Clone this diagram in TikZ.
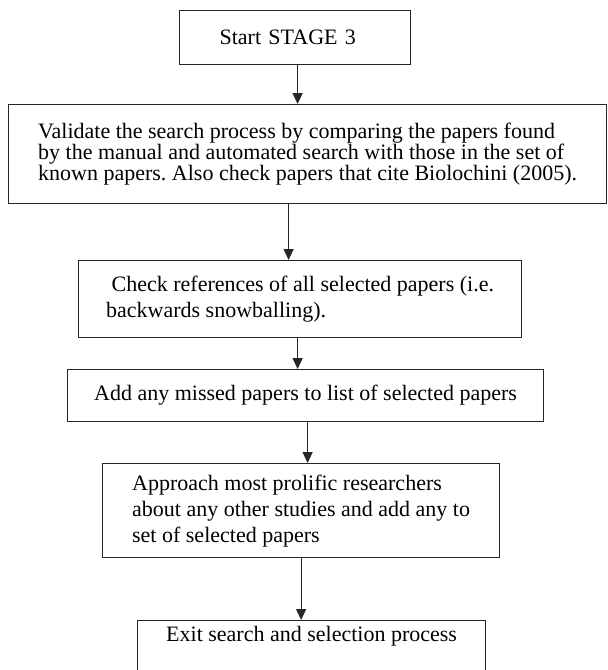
\documentclass[tikz,border=0pt]{standalone}
\usepackage{fontspec}
\setmainfont{Liberation Serif}
\usetikzlibrary{arrows.meta}
\frenchspacing

\begin{document}
\begin{tikzpicture}[
    x=1pt, y=1pt,
    box/.style={rectangle,draw=black!85,line width=0.6pt,align=left,
                inner xsep=4pt,anchor=north west},
    loose/.style={font=\fontsize{11}{13}\selectfont},
    flow/.style={-{Triangle[length=5.5pt,width=5pt]},draw=black!85,
                 line width=0.6pt}
]

    \tikzstyle{every node}=[font=\fontsize{11}{10.7}\selectfont];

    \clip (0,0) rectangle (304,-335);

    % stage 3 boxes
    \node[box, inner xsep=20pt, text width=75.5pt, minimum height=27pt]
        (start) at (89.5,-5) {Start STAGE 3};

    \node[box, minimum width=299pt, minimum height=49.5pt] (validate) at (4,-52)
        {Validate the search process by comparing the papers found\\
         by the manual and automated search with those in the set of\\
         known papers. Also check papers that cite Biolochini (2005).};

    \node[box, loose, minimum width=221.5pt, minimum height=38.5pt] (refs) at (39,-130)
        {\ Check references of all selected papers (i.e.\\
         backwards snowballing).};

    \node[box, minimum width=238pt, minimum height=26pt] (missed) at (33.5,-184.5)
        {Add any missed papers to list of selected papers};

    \node[box, loose, minimum width=198.5pt, minimum height=47pt] (approach) at (51,-231.5)
        {Approach most prolific researchers\\
         about any other studies and add any to\\
         set of selected papers};

    \node[box, minimum width=174pt, inner ysep=3pt, text depth=28pt]
        (exit) at (68.5,-310) {Exit search and selection process};

    % arrows
    \draw[flow] ([xshift=1.25pt]start.south) -- ([xshift=1.25pt]start.south |- validate.north);
    \draw[flow] ([xshift=-9.5pt]validate.south) -- ([xshift=-9.5pt]validate.south |- refs.north);
    \draw[flow] ([xshift=-1.25pt]refs.south) -- ([xshift=-1.25pt]refs.south |- missed.north);
    \draw[flow] ([xshift=1pt]missed.south) -- ([xshift=1pt]missed.south |- approach.north);
    \draw[flow] (approach.south) -- (approach.south |- exit.north);

\end{tikzpicture}
\end{document}
